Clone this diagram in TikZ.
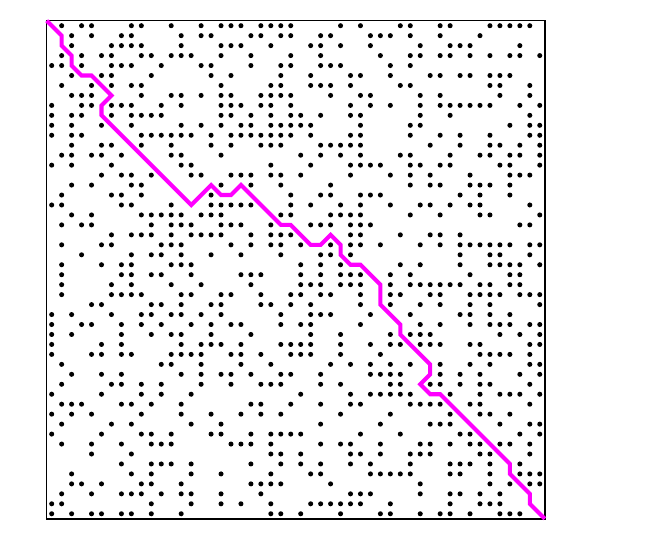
\documentclass[tikz,border=0pt]{standalone}
\usepackage{tikz}

\definecolor{sciezka}{RGB}{255,0,255}

% wiersz macierzy: numer wiersza, lista kolumn z punktami
\newcommand{\wiersz}[2]{%
	\foreach \k in {#2} {\fill (\k+0.5,#1+0.5) circle (1.8pt);}%
}

\begin{document}
\begin{tikzpicture}[x=0.25cm,y=-0.25cm]

	% Obszar rysunku
	\useasboundingbox (-4.69,-2.08) rectangle (61.07,51.74);

	% Punkty macierzy
	\wiersz{0}{1,3,4,8,9,12,15,17,18,19,21,22,23,24,29,31,35,36,39,40,44,45,46,47,48}
	\wiersz{1}{2,4,7,8,13,15,16,20,21,23,24,27,28,32,33,34,36,39,43}
	\wiersz{2}{2,6,7,8,9,13,17,18,19,22,26,27,29,32,37,40,41,42,47}
	\wiersz{3}{1,3,5,6,9,10,12,13,14,17,20,24,27,33,36,37,39,40,42,44,46,47,49}
	\wiersz{4}{0,1,3,6,7,8,11,15,16,20,23,24,27,28,29,34,36}
	\wiersz{5}{2,5,6,10,16,18,23,26,30,31,34,38,39,41,42,44,45,46}
	\wiersz{6}{1,4,6,8,9,17,22,23,26,27,28,30,35,36,44,45,48}
	\wiersz{7}{2,3,4,9,12,13,15,17,18,21,22,23,24,28,31,32,37,39,45,48}
	\wiersz{8}{0,3,4,6,7,8,11,13,17,18,19,21,22,24,30,32,34,37,39,40,41,42,43,44,47,49}
	\wiersz{9}{0,2,3,6,8,9,10,11,17,18,20,22,24,25,27,30,31,37,40,48}
	\wiersz{10}{0,2,5,8,13,15,17,19,20,22,23,24,25,26,31,36,37,46,48,49}
	\wiersz{11}{0,2,3,9,10,11,12,13,14,16,18,19,20,21,22,23,24,26,30,31,36,39,41,44,48,49}
	\wiersz{12}{2,5,6,9,12,16,18,21,22,23,27,28,29,30,31,38,41,44,45,47,49}
	\wiersz{13}{1,2,4,5,7,12,13,17,25,27,29,31,35,36,40,43,44,46,47,49}
	\wiersz{14}{0,2,6,13,14,22,26,30,31,32,33,36,37,39,40,45,46,49}
	\wiersz{15}{5,7,8,10,14,15,18,19,20,22,23,25,30,34,36,38,42,46,47,48}
	\wiersz{16}{2,4,8,9,17,20,23,28,36,38,39,42,43,44,46}
	\wiersz{17}{1,6,7,9,16,24,27,28,31,32,33,41,43,46}
	\wiersz{18}{0,1,7,8,12,16,17,18,19,20,24,26,29,31,34,37,38,40,42,43,48}
	\wiersz{19}{2,4,9,10,11,12,13,15,16,17,23,24,28,29,30,31,36,39,43,44,49}
	\wiersz{20}{1,3,4,10,12,13,14,17,18,19,22,26,27,28,30,31,32,47,48}
	\wiersz{21}{6,8,9,10,12,14,15,16,17,20,22,23,24,30,31,35,38,39,41}
	\wiersz{22}{1,5,6,11,12,13,18,20,22,23,25,28,30,31,33,37,39,41,42,43,44,45,46,48,49}
	\wiersz{23}{3,8,10,11,13,16,19,23,27,28,30,41,44,45,48}
	\wiersz{24}{1,5,7,8,12,13,14,25,27,29,35,37,41,44,45,46,47,49}
	\wiersz{25}{1,7,8,10,11,14,19,20,21,25,27,29,30,31,34,36,42,46,47}
	\wiersz{26}{1,6,8,12,15,20,25,26,27,29,30,31,34,36,37,38,39,40,41,43,44,46,47}
	\wiersz{27}{1,6,7,8,9,13,14,17,18,21,24,25,27,28,31,34,35,38,39,42,43,44,45,47,48,49}
	\wiersz{28}{4,5,10,11,13,16,17,21,22,24,26,31,34,37,39,42,44,49}
	\wiersz{29}{0,2,6,9,10,12,13,15,17,23,26,27,28,32,36,41,42,44,46}
	\wiersz{30}{0,3,4,7,9,11,14,16,18,19,23,25,26,31,37,39,42,44,45,46,48,49}
	\wiersz{31}{0,2,7,10,12,13,16,20,26,29,34,36,37,38,45,47,49}
	\wiersz{32}{0,5,7,13,15,16,17,19,23,24,25,26,29,32,34,35,37,38,39,42,43,48,49}
	\wiersz{33}{0,4,5,7,8,12,13,14,15,18,19,21,24,25,26,29,33,43,44,45,46,48}
	\wiersz{34}{1,11,12,15,19,22,28,30,32,34,36,39,42,44,48,49}
	\wiersz{35}{2,5,7,13,15,17,18,20,23,24,27,32,33,34,35,39,41,43,47,49}
	\wiersz{36}{1,6,7,9,11,15,18,21,22,23,27,29,34,35,38,39,41,43,44,48}
	\wiersz{37}{0,5,9,11,14,25,30,32,33,34,35,36,40,43,45,46,47,49}
	\wiersz{38}{1,2,3,7,8,10,13,20,21,24,27,30,31,36,37,38,39,42,43,48}
	\wiersz{39}{0,2,4,9,13,16,19,21,23,29,34,40,43,44,46}
	\wiersz{40}{1,6,8,14,17,27,33,38,39,40,45,48,49}
	\wiersz{41}{0,5,9,10,12,16,17,20,22,23,24,25,31,35,41,42,47,49}
	\wiersz{42}{1,4,7,10,11,12,18,19,20,22,27,29,30,33,37,38,40,42,43,45,46,48}
	\wiersz{43}{4,8,22,23,25,30,31,33,36,37,38,43,44,48}
	\wiersz{44}{7,10,11,12,14,20,23,25,27,30,32,36,40,41,42,44,47}
	\wiersz{45}{2,8,10,14,17,22,26,27,32,33,34,35,36,40,41,44,47,48,49}
	\wiersz{46}{2,3,5,9,10,13,20,21,22,23,28,37,44,46,48,49}
	\wiersz{47}{1,4,7,8,9,11,13,14,17,21,30,31,32,37,40,41,43,45}
	\wiersz{48}{0,1,10,14,17,19,22,26,27,28,29,30,31,34,40,43,44,45}
	\wiersz{49}{0,2,4,5,7,8,10,13,22,23,25,29,33,34,37,39,40,42,45,46,47}

	% Ramka
	\draw[line width=1.1pt] (0,0) rectangle (50,50);

	% Sciezka dopasowania
	\draw[
	sciezka,
	line width=2.9pt
	]
	(0,0) -- (1.5,1.5) -- (1.5,2.5) -- (2.5,3.5) -- (2.5,4.5) -- (3.5,5.5)
	-- (4.5,5.5) -- (6.5,7.5) -- (5.5,8.5) -- (5.5,9.5) -- (14.5,18.5)
	-- (16.5,16.5) -- (17.5,17.5) -- (18.5,17.5) -- (19.5,16.5) -- (23.5,20.5)
	-- (24.5,20.5) -- (26.5,22.5) -- (27.5,22.5) -- (28.5,21.5) -- (29.5,22.5)
	-- (29.5,23.5) -- (30.5,24.5) -- (31.5,24.5) -- (33.5,26.5) -- (33.5,28.5)
	-- (35.5,30.5) -- (35.5,31.5) -- (38.5,34.5) -- (38.5,35.5) -- (37.5,36.5)
	-- (38.5,37.5) -- (39.5,37.5) -- (46.5,44.5) -- (46.5,45.5) -- (48.5,47.5)
	-- (48.5,48.5) -- (50,50);

\end{tikzpicture}
\end{document}
